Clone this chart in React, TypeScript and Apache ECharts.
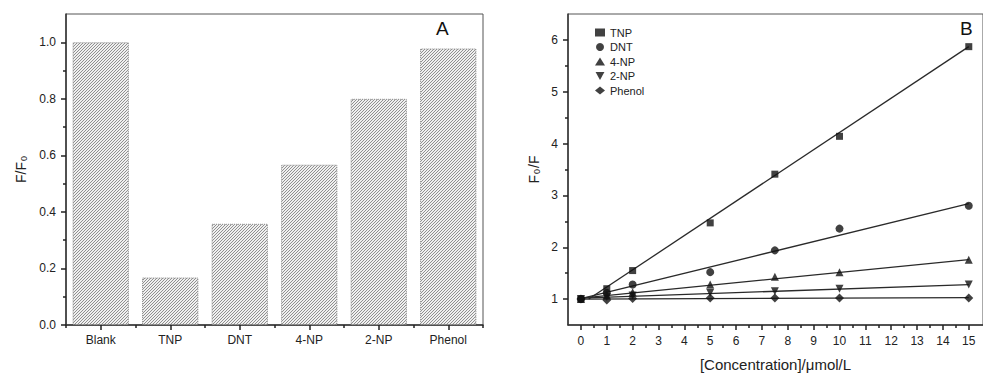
import React, { useEffect, useRef } from "react";
import * as echarts from "echarts";

const barCategories = ["Blank", "TNP", "DNT", "4-NP", "2-NP", "Phenol"];
const barValues = [1.0, 0.168, 0.358, 0.567, 0.8, 0.978];
const barYTicks = [0, 0.2, 0.4, 0.6, 0.8, 1.0];
const barYMinor = [0.1, 0.3, 0.5, 0.7, 0.9];

const concX = [0, 1, 2, 5, 7.5, 10, 15];
const tnp = [1.0, 1.2, 1.55, 2.47, 3.41, 4.14, 5.87];
const dnt = [1.0, 1.12, 1.28, 1.52, 1.94, 2.36, 2.8];
const np4 = [1.0, 1.08, 1.13, 1.28, 1.43, 1.52, 1.76];
const np2 = [1.0, 1.04, 1.07, 1.12, 1.15, 1.2, 1.28];
const phenol = [1.0, 0.98, 1.01, 1.02, 1.02, 1.02, 1.02];

// fitted lines: [x, y] endpoints
const tnpFit = [[0.3, 1.0], [15, 5.87]];
const dntFit = [[0, 1.01], [15, 2.84]];
const np4Fit = [[0, 1.02], [15, 1.76]];
const np2Fit = [[0, 1.02], [15, 1.28]];
const phenolFit = [[0, 1.0], [15, 1.03]];

const lineXTicks = [0, 1, 2, 3, 4, 5, 6, 7, 8, 9, 10, 11, 12, 13, 14, 15];
const lineXMinor = [0.5, 1.5, 2.5, 3.5, 4.5, 5.5, 6.5, 7.5, 8.5, 9.5, 10.5, 11.5, 12.5, 13.5, 14.5];
const lineYTicks = [1, 2, 3, 4, 5, 6];
const lineYMinor = [1.5, 2.5, 3.5, 4.5, 5.5];

const FONT = "Liberation Sans, Arial, sans-serif";
const AXIS = "#333";
const LBL = "#222";

function makeHatch(): HTMLCanvasElement {
  const s = 3;
  const c = document.createElement("canvas");
  c.width = s;
  c.height = s;
  const g = c.getContext("2d")!;
  g.fillStyle = "#f0f0f0";
  g.fillRect(0, 0, s, s);
  g.strokeStyle = "#909090";
  g.lineWidth = 1;
  g.beginPath();
  g.moveTo(0, s); g.lineTo(s, 0);
  g.moveTo(-1, 1); g.lineTo(1, -1);
  g.moveTo(s - 1, s + 1); g.lineTo(s + 1, s - 1);
  g.stroke();
  return c;
}

export default function App() {
  const ref = useRef<HTMLDivElement>(null);
  useEffect(() => {
    if (!ref.current) return;
    const chart = echarts.init(ref.current, undefined, { renderer: "svg" });
    const toPts = (ys: number[]) => concX.map((x, i) => [x, ys[i]]);
    const mainAxisLine = () => ({ show: true, onZero: false, lineStyle: { color: AXIS, width: 1.5 } });
    const label = { color: LBL, fontSize: 12, fontFamily: FONT };
    const major = (extra: any = {}) => ({ show: true, inside: false, length: 5, lineStyle: { color: "#222", width: 1.5 }, ...extra });
    const minor = (extra: any = {}) => ({ show: true, inside: false, length: 3, lineStyle: { color: "#222", width: 1.5 }, ...extra });
    const scatterNames = ["TNP", "DNT", "4-NP", "2-NP", "Phenol"];
    const scatterData = [tnp, dnt, np4, np2, phenol];
    const symbols = ["rect", "circle", "triangle", "path://M0,0 L10,0 L5,9 Z", "diamond"];
    const sizes = [7, 8, 8, 8, 9];
    const fits = [tnpFit, dntFit, np4Fit, np2Fit, phenolFit];
    const hatch = makeHatch();

    const option: any = {
      animation: false,
      textStyle: { fontFamily: FONT },
      grid: [
        { left: 66, top: 14, width: 417, height: 311, show: true, borderColor: "#555", borderWidth: 1 },
        { left: 568, top: 14, width: 420, height: 311, show: true, borderColor: "#555", borderWidth: 1 },
      ],
      legend: {
        orient: "vertical",
        left: 590,
        top: 22,
        itemGap: 3.5,
        itemWidth: 10,
        itemHeight: 8,
        textStyle: { fontSize: 11, color: LBL, fontFamily: FONT },
        data: scatterNames,
      },
      xAxis: [
        {
          type: "category", gridIndex: 0, data: barCategories,
          axisLine: mainAxisLine(),
          axisTick: major({ alignWithLabel: true, interval: 0 }),
          axisLabel: { ...label, margin: 9 },
          splitLine: { show: false },
        },
        {
          type: "category", gridIndex: 0, position: "bottom", data: barCategories,
          axisLine: { show: false, onZero: false },
          axisTick: minor({ interval: 0 }),
          axisLabel: { show: false },
          splitLine: { show: false },
        },
        {
          type: "value", gridIndex: 1, min: -0.5, max: 15.55,
          axisLine: mainAxisLine(),
          axisTick: major({ customValues: lineXTicks }),
          axisLabel: { ...label, margin: 10, customValues: lineXTicks },
          splitLine: { show: false },
          name: "[Concentration]/μmol/L",
          nameLocation: "middle",
          nameGap: 32,
          nameTextStyle: { fontSize: 15, color: LBL, fontFamily: FONT },
        },
        {
          type: "value", gridIndex: 1, position: "bottom", min: -0.5, max: 15.55,
          axisLine: { show: false, onZero: false },
          axisTick: minor({ customValues: lineXMinor }),
          axisLabel: { show: false },
          splitLine: { show: false },
        },
      ],
      yAxis: [
        {
          type: "value", gridIndex: 0, min: 0, max: 1.1,
          axisLine: mainAxisLine(),
          axisTick: major({ customValues: barYTicks }),
          axisLabel: { ...label, margin: 10, customValues: barYTicks, formatter: (v: number) => v.toFixed(1) },
          splitLine: { show: false },
          name: "F/F{sub|0}",
          nameLocation: "middle",
          nameGap: 38,
          nameTextStyle: {
            fontSize: 14, color: LBL, fontFamily: FONT,
            rich: { sub: { fontSize: 9, color: LBL, verticalAlign: "bottom", padding: [6, 0, 0, 1] } },
          },
        },
        {
          type: "value", gridIndex: 0, position: "left", min: 0, max: 1.1,
          axisLine: { show: false, onZero: false },
          axisTick: minor({ customValues: barYMinor }),
          axisLabel: { show: false },
          splitLine: { show: false },
        },
        {
          type: "value", gridIndex: 1, min: 0.5, max: 6.5,
          axisLine: mainAxisLine(),
          axisTick: major({ customValues: lineYTicks }),
          axisLabel: { ...label, margin: 10, customValues: lineYTicks },
          splitLine: { show: false },
          name: "F{sub|0}/F",
          nameLocation: "middle",
          nameGap: 27,
          nameTextStyle: {
            fontSize: 14, color: LBL, fontFamily: FONT,
            rich: { sub: { fontSize: 9, color: LBL, verticalAlign: "bottom", padding: [6, 1, 0, 1] } },
          },
        },
        {
          type: "value", gridIndex: 1, position: "left", min: 0.5, max: 6.5,
          axisLine: { show: false, onZero: false },
          axisTick: minor({ customValues: lineYMinor }),
          axisLabel: { show: false },
          splitLine: { show: false },
        },
      ],
      graphic: [
        { type: "text", left: 436, top: 19, style: { text: "A", fontSize: 19, fill: "#111", fontFamily: FONT } },
        { type: "text", left: 960, top: 19, style: { text: "B", fontSize: 19, fill: "#111", fontFamily: FONT } },
      ],
      series: [
        {
          type: "bar", xAxisIndex: 0, yAxisIndex: 0, data: barValues,
          barCategoryGap: "19%",
          itemStyle: {
            color: { image: hatch, repeat: "repeat" },
            borderColor: "#888",
            borderWidth: 1,
            borderType: "dotted",
          },
        },
        ...fits.map((f, i) => ({
          type: "line", name: scatterNames[i] + " fit", xAxisIndex: 2, yAxisIndex: 2,
          data: f, showSymbol: false, symbol: "none",
          lineStyle: { color: "#2a2a2a", width: 1.3 }, z: 2,
        })),
        ...scatterData.map((d, i) => ({
          type: "scatter", name: scatterNames[i], xAxisIndex: 2, yAxisIndex: 2,
          data: toPts(d), symbol: symbols[i], symbolSize: sizes[i],
          itemStyle: { color: "#111" }, z: 3,
        })),
      ],
    };
    chart.setOption(option);
    return () => chart.dispose();
  }, []);
  return <div ref={ref} style={{ position: "absolute", left: 0, top: 0, width: 983, height: 377, background: "#fff" }} />;
}
